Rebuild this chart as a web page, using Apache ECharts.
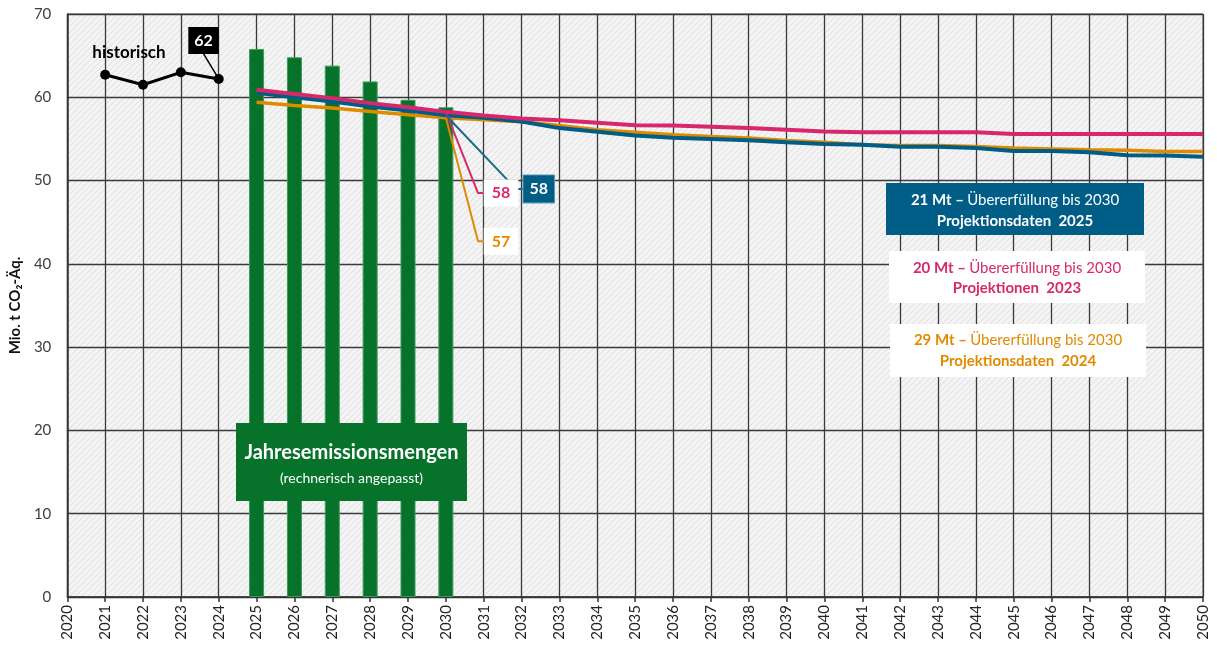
<!DOCTYPE html>
<html>
<head>
<meta charset="utf-8">
<script src="https://cdn.jsdelivr.net/npm/echarts@6/dist/echarts.min.js"></script>
<style>html,body{margin:0;padding:0;background:#fff}#c{width:1217px;height:649px}</style>
</head>
<body>
<div id="c"></div>
<script>
// ---- data ----
const histYears = [2021, 2022, 2023, 2024];
const histValues = [62.7, 61.5, 63.0, 62.2];
const budgetYears = [2025, 2026, 2027, 2028, 2029, 2030];
const budgetValues = [65.8, 64.8, 63.8, 61.9, 59.7, 58.8];
const projYears = [2025,2026,2027,2028,2029,2030,2031,2032,2033,2034,2035,2036,2037,2038,2039,2040,2041,2042,2043,2044,2045,2046,2047,2048,2049,2050];
const proj2023 = [60.9,60.4,59.9,59.3,58.8,58.25,57.8,57.45,57.25,56.95,56.65,56.6,56.45,56.3,56.1,55.9,55.8,55.8,55.8,55.8,55.6,55.6,55.6,55.6,55.6,55.6];
const proj2024 = [59.4,59.0,58.7,58.3,57.9,57.55,57.3,57.05,56.6,56.1,55.8,55.5,55.3,55.1,54.8,54.6,54.3,54.2,54.2,54.1,53.9,53.8,53.7,53.65,53.5,53.5];
const proj2025 = [60.55,60.0,59.5,58.9,58.4,57.85,57.55,57.1,56.3,55.85,55.4,55.15,55.0,54.85,54.6,54.4,54.3,54.05,54.05,53.9,53.56,53.56,53.4,53.05,53.0,52.85];
// label leader lines [x, y]
const leader2023 = [[2030, 58.25], [2030.85, 48.5], [2031.0, 48.5]];
const leader2024 = [[2030, 57.55], [2030.85, 42.7], [2031.0, 42.7]];
const leader2025 = [[2030, 57.85], [2031.85, 49.0], [2032.05, 49.0]];
const leaderHist = [[2023.6, 65.2], [2024, 62.2]];
const label2023 = '58', label2024 = '57', label2025 = '58', labelHist = '62';

const PINK = '#d8286c', BLUE = '#005d85', ORANGE = '#e08a00', GREEN = '#06722a';
const FONT = 'Lato, "Open Sans", sans-serif';

function zip(xs, ys) { return xs.map((x, i) => [x, ys[i]]); }

// hatch pattern
const pc = document.createElement('canvas');
pc.width = 6; pc.height = 6;
const g = pc.getContext('2d');
g.fillStyle = '#f4f4f4'; g.fillRect(0, 0, 6, 6);
g.strokeStyle = '#dedede'; g.lineWidth = 1;
g.beginPath();
g.moveTo(-1, 7); g.lineTo(7, -1);
g.moveTo(-1, 1); g.lineTo(1, -1);
g.moveTo(5, 7); g.lineTo(7, 5);
g.stroke();

function labelAt(data, idx, text, lbl) {
  return data.map((p, i) => i === idx ? { value: p, label: Object.assign({ show: true, formatter: text }, lbl) } : { value: p, label: { show: false } });
}
const leaderBase = { type: 'line', symbol: 'circle', symbolSize: 0, showSymbol: true, z: 6 };

const chart = echarts.init(document.getElementById('c'), null, { renderer: 'canvas' });
chart.setOption({
  animation: false,
  grid: { left: 67, right: 14, top: 14, bottom: 52, show: true, backgroundColor: { image: pc, repeat: 'repeat' }, borderColor: '#444', borderWidth: 1 },
  xAxis: {
    type: 'value', min: 2020, max: 2050, interval: 1,
    axisLine: { show: true, lineStyle: { color: '#333', width: 1.5 } },
    axisTick: { show: true, length: 5, lineStyle: { color: '#333', width: 1.5 } },
    splitLine: { show: true, lineStyle: { color: '#3a3a3a', width: 1.3 } },
    axisLabel: { rotate: 90, margin: 8, fontSize: 15, color: '#222', fontFamily: FONT, formatter: v => String(v) }
  },
  yAxis: {
    type: 'value', min: 0, max: 70, interval: 10,
    name: 'Mio. t CO₂-Äq.', nameLocation: 'middle', nameGap: 42, nameRotate: 90,
    nameTextStyle: { fontSize: 15, fontWeight: 'bold', color: '#111', fontFamily: FONT },
    axisLine: { show: true, lineStyle: { color: '#333', width: 1.5 } },
    axisTick: { show: false },
    splitLine: { show: true, lineStyle: { color: '#3a3a3a', width: 1.3 } },
    axisLabel: { margin: 16, fontSize: 15, color: '#404040', fontFamily: FONT }
  },
  series: [
    { type: 'bar', data: zip(budgetYears, budgetValues), barWidth: 15, itemStyle: { color: GREEN, borderColor: '#3d9a5c', borderWidth: 1 }, z: 2 },
    { type: 'line', data: zip(projYears, proj2024), symbol: 'none', lineStyle: { color: ORANGE, width: 3.5 }, z: 3 },
    { type: 'line', data: zip(projYears, proj2025), symbol: 'none', lineStyle: { color: BLUE, width: 4 }, z: 4 },
    { type: 'line', data: zip(projYears, proj2023), symbol: 'none', lineStyle: { color: PINK, width: 4 }, z: 5 },
    Object.assign({}, leaderBase, { data: labelAt(leader2024, 2, label2024, { position: 'right', distance: 0, backgroundColor: '#fff', padding: [6, 8, 5, 8], color: ORANGE, fontWeight: 'bold', fontSize: 16, fontFamily: FONT }), itemStyle: { color: ORANGE }, lineStyle: { color: ORANGE, width: 2 } }),
    Object.assign({}, leaderBase, { data: labelAt(leader2023, 2, label2023, { position: 'right', distance: 0, backgroundColor: '#fff', padding: [6, 8, 5, 8], color: PINK, fontWeight: 'bold', fontSize: 16, fontFamily: FONT }), itemStyle: { color: PINK }, lineStyle: { color: PINK, width: 2 } }),
    Object.assign({}, leaderBase, { data: labelAt(leader2025, 2, label2025, { position: 'right', distance: 0, backgroundColor: BLUE, borderColor: '#5d9bb8', borderWidth: 1, padding: [6, 6, 5, 6], color: '#fff', fontWeight: 'bold', fontSize: 16, fontFamily: FONT }), itemStyle: { color: '#1b6a8c' }, lineStyle: { color: '#1b6a8c', width: 2 } }),
    Object.assign({}, leaderBase, { data: labelAt(leaderHist, 0, labelHist, { position: 'top', distance: 0, backgroundColor: '#000', padding: [6, 6, 5, 6], color: '#fff', fontWeight: 'bold', fontSize: 16, fontFamily: FONT }), itemStyle: { color: '#000' }, lineStyle: { color: '#000', width: 1.5 } }),
    { type: 'line', data: zip(histYears, histValues), symbol: 'circle', symbolSize: 10, itemStyle: { color: '#000' }, lineStyle: { color: '#000', width: 3 }, z: 7 }
  ],
  graphic: [
    { type: 'text', style: { text: 'historisch', x: 129, y: 53, align: 'center', verticalAlign: 'middle', font: 'bold 17px ' + FONT, fill: '#000' }, z: 100 },
    { type: 'rect', shape: { x: 236, y: 423, width: 231, height: 78 }, style: { fill: GREEN }, z: 100 },
    { type: 'text', style: { text: 'Jahresemissionsmengen', x: 351.5, y: 453, align: 'center', verticalAlign: 'middle', font: 'bold 20px ' + FONT, fill: '#fff' }, z: 101 },
    { type: 'text', style: { text: '(rechnerisch angepasst)', x: 351.5, y: 478, align: 'center', verticalAlign: 'middle', font: '14px ' + FONT, fill: '#fff' }, z: 101 },
    { type: 'rect', shape: { x: 886, y: 183, width: 258, height: 52 }, style: { fill: BLUE }, z: 100 },
    { type: 'text', style: { text: '{b|21 Mt –} {r|Übererfüllung bis 2030}', x: 1015, y: 200, align: 'center', verticalAlign: 'middle', rich: { b: { font: 'bold 15px ' + FONT, fill: '#fff' }, r: { font: '15px ' + FONT, fill: '#fff' } } }, z: 101 },
    { type: 'text', style: { text: 'Projektionsdaten  2025', x: 1015, y: 221, align: 'center', verticalAlign: 'middle', font: 'bold 15px ' + FONT, fill: '#fff' }, z: 101 },
    { type: 'rect', shape: { x: 889, y: 251, width: 256, height: 52 }, style: { fill: '#fff' }, z: 100 },
    { type: 'text', style: { text: '{b|20 Mt –} {r|Übererfüllung bis 2030}', x: 1017, y: 268, align: 'center', verticalAlign: 'middle', rich: { b: { font: 'bold 15px ' + FONT, fill: PINK }, r: { font: '15px ' + FONT, fill: PINK } } }, z: 101 },
    { type: 'text', style: { text: 'Projektionen  2023', x: 1017, y: 288, align: 'center', verticalAlign: 'middle', font: 'bold 15px ' + FONT, fill: PINK }, z: 101 },
    { type: 'rect', shape: { x: 890, y: 324, width: 256, height: 53 }, style: { fill: '#fff' }, z: 100 },
    { type: 'text', style: { text: '{b|29 Mt –} {r|Übererfüllung bis 2030}', x: 1018, y: 340, align: 'center', verticalAlign: 'middle', rich: { b: { font: 'bold 15px ' + FONT, fill: ORANGE }, r: { font: '15px ' + FONT, fill: ORANGE } } }, z: 101 },
    { type: 'text', style: { text: 'Projektionsdaten  2024', x: 1018, y: 361, align: 'center', verticalAlign: 'middle', font: 'bold 15px ' + FONT, fill: ORANGE }, z: 101 }
  ]
});
</script>
</body>
</html>
